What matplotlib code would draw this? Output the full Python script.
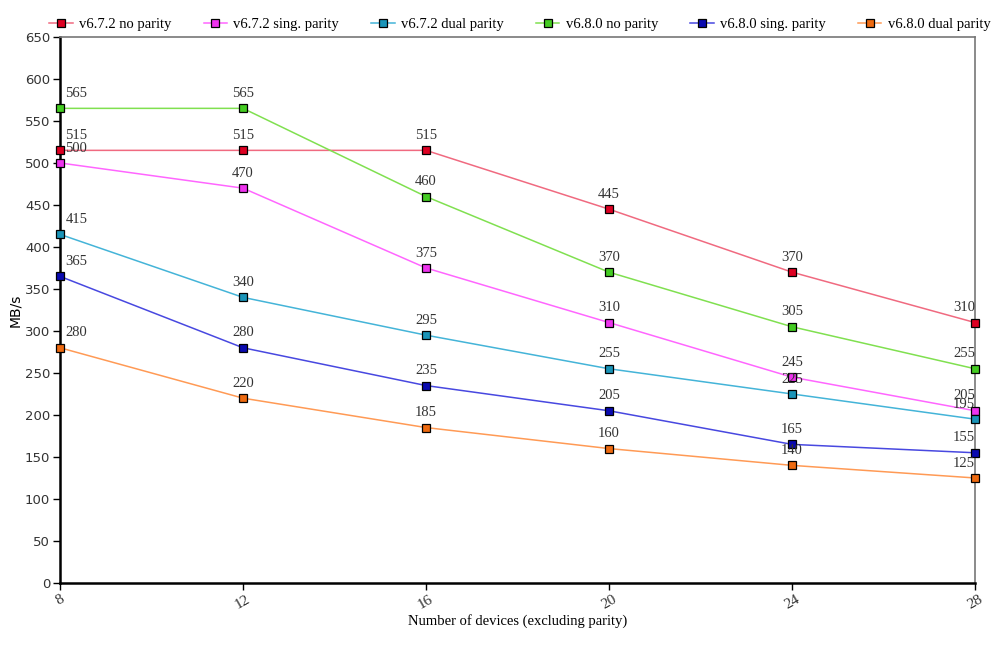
#plot write throughput per parity mode

import matplotlib
matplotlib.use('Agg')
import matplotlib.pyplot as plt

########################################################################
### data ###
########################################################################

devices = [8, 12, 16, 20, 24, 28]

names = ['v6.7.2 no parity', 'v6.7.2 sing. parity', 'v6.7.2 dual parity',
         'v6.8.0 no parity', 'v6.8.0 sing. parity', 'v6.8.0 dual parity']

v672_none = [515, 515, 515, 445, 370, 310]
v672_sing = [500, 470, 375, 310, 245, 205]
v672_dual = [415, 340, 295, 255, 225, 195]
v680_none = [565, 565, 460, 370, 305, 255]
v680_sing = [365, 280, 235, 205, 165, 155]
v680_dual = [280, 220, 185, 160, 140, 125]

series = [v672_none, v672_sing, v672_dual, v680_none, v680_sing, v680_dual]

line_colors = ['#f06a80', '#ff66ff', '#44b4d8', '#80e050', '#4848e0', '#ff9a55']
face_colors = ['#dd0022', '#ee33ee', '#1a94b8', '#44cc22', '#0a0ab0', '#ee6a10']

########################################################################
### plot ###
########################################################################

serif = 'Liberation Serif'

fig = plt.figure(figsize=(10, 6.54), dpi=100)
ax = fig.add_axes([0.06, 0.1086, 0.915, 0.8349])

handles = []
for vals, lc, fc, name in zip(series, line_colors, face_colors, names):
    h, = ax.plot(devices, vals, color=lc, lw=1.1, marker='s', ms=6.3,
                 mfc=fc, mec='black', mew=0.9, label=name, clip_on=False,
                 zorder=3)
    handles.append(h)
    for i, (x, y) in enumerate(zip(devices, vals)):
        if i == 0:
            ha, dx = 'left', 4
        elif i == len(devices) - 1:
            ha, dx = 'right', 0
        else:
            ha, dx = 'center', 0
        ax.annotate(str(y), (x, y), xytext=(dx, 6), textcoords='offset points',
                    ha=ha, va='bottom', fontsize=10.5, family=serif,
                    color='#333333')

ax.set_xlim(8, 28)
ax.set_ylim(0, 650)
ax.set_xticks(devices)
ax.set_yticks(range(0, 651, 50))
ax.set_xticklabels([str(d) for d in devices], rotation=30, family=serif,
                   fontsize=11, color='#333333')
for lab in ax.get_yticklabels():
    lab.set_fontsize(9.5)
    lab.set_color('#333333')

ax.tick_params(axis='both', direction='out', length=5, width=1, color='black')
ax.tick_params(axis='x', pad=2)
ax.tick_params(axis='y', pad=2)

for s in ['left', 'bottom']:
    ax.spines[s].set_linewidth(1.8)
    ax.spines[s].set_color('black')
for s in ['top', 'right']:
    ax.spines[s].set_linewidth(1.2)
    ax.spines[s].set_color('#777777')

ax.set_xlabel('Number of devices (excluding parity)', family=serif,
              fontsize=10.5, labelpad=2)
ax.set_ylabel('MB/s', fontsize=10, labelpad=2)

fig.legend(handles=handles, loc='center', bbox_to_anchor=(0.52, 0.962),
           ncol=6, frameon=False, prop={'family': serif, 'size': 10.5},
           handlelength=1.6, columnspacing=2.2, handletextpad=0.45)

fig.savefig('out.png', dpi=100)
